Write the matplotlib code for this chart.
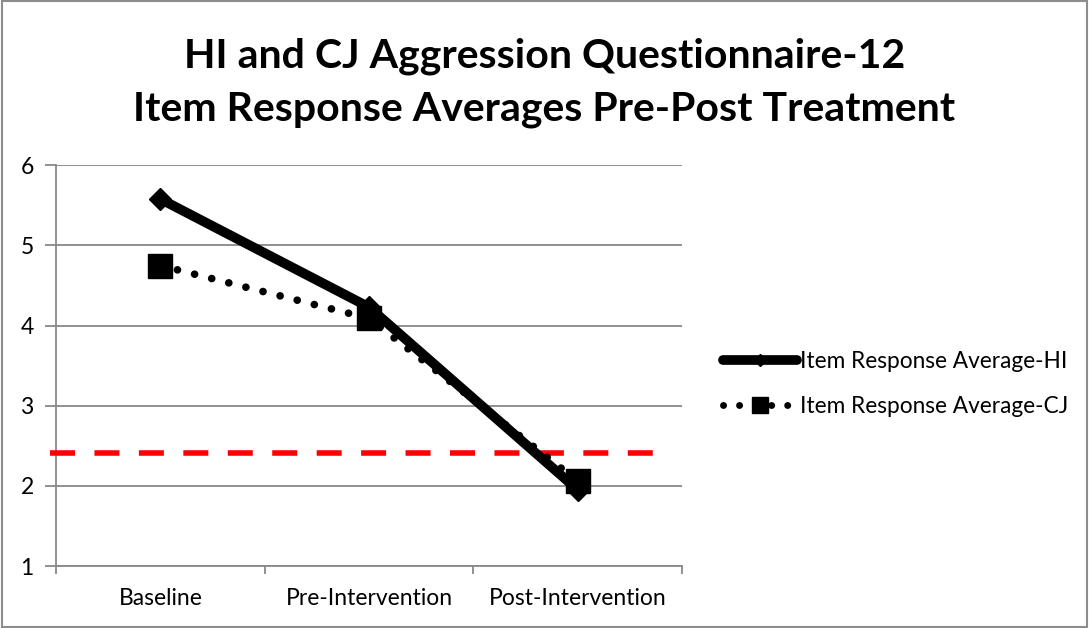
import matplotlib
matplotlib.use("Agg")
import matplotlib.pyplot as plt
from matplotlib.lines import Line2D
import matplotlib.patches as mpatches

categories = ["Baseline", "Pre-Intervention", "Post-Intervention"]
hi_values = [5.58, 4.23, 1.95]
cj_values = [4.75, 4.09, 2.06]
threshold = 2.41
yticks = [1, 2, 3, 4, 5, 6]

plt.rcParams['font.family'] = ['Lato', 'DejaVu Sans']

fig = plt.figure(figsize=(10.89, 6.28), dpi=100)
fig.patches.append(mpatches.Rectangle((0.002, 0.002), 0.996, 0.996, transform=fig.transFigure,
                                      fill=False, edgecolor='#8c8c8c', linewidth=1.5))
ax = fig.add_axes([0.0514, 0.0987, 0.575, 0.638])

x = list(range(len(categories)))
ax.plot(x, hi_values, color='black', linewidth=7, marker='D', markersize=11,
        solid_capstyle='round', zorder=4, label='Item Response Average-HI')
ax.plot(x, cj_values, color='black', linewidth=0, marker='s', markersize=17, zorder=5)
ax.plot(x, cj_values, color='black', linewidth=5.5, linestyle=(0, (0.01, 2.3)),
        dash_capstyle='round', zorder=5)

ax.plot([-0.53, 2.43], [threshold, threshold], color='#ff0000', linewidth=4,
        linestyle=(0, (4.5, 3.5)), clip_on=False, zorder=3)

ax.set_xlim(-0.5, 2.5)
ax.set_ylim(1, 6)
ax.set_yticks(yticks)
ax.grid(axis='y', color='#888888', linewidth=1.3)
ax.set_axisbelow(True)
for s in ['top', 'right']:
    ax.spines[s].set_visible(False)
ax.spines['left'].set_color('#888888')
ax.spines['bottom'].set_color('#888888')
ax.spines['left'].set_linewidth(1.3)
ax.spines['bottom'].set_linewidth(1.3)
ax.set_xticks(x)
ax.set_xticklabels(categories, fontsize=16.5)
ax.set_xticks([-0.5, 0.5, 1.5, 2.5], minor=True)
ax.tick_params(axis='x', which='major', length=0, pad=16)
ax.tick_params(axis='x', which='minor', length=6, color='#888888', width=1.3)
ax.tick_params(axis='y', length=8, color='#888888', width=1.3, labelsize=16.5, pad=8)

fig.text(0.5, 0.91, "HI and CJ Aggression Questionnaire-12", ha='center', va='center',
         fontsize=29.5, fontweight='bold')
fig.text(0.5, 0.826, "Item Response Averages Pre-Post Treatment", ha='center', va='center',
         fontsize=29.5, fontweight='bold')

h1 = Line2D([], [], color='black', linewidth=7, marker='D', markersize=6, solid_capstyle='round')
h2 = Line2D([], [], color='black', linewidth=5, linestyle=(0, (0.01, 2.3)), marker='s',
            markersize=12, dash_capstyle='round')
fig.legend([h1, h2], ['Item Response Average-HI', 'Item Response Average-CJ'],
           loc='center left', bbox_to_anchor=(0.645, 0.389), frameon=False, fontsize=16.3,
           handlelength=3.3, handletextpad=0.1, labelspacing=1.05)

fig.savefig("out.png", dpi=100)
